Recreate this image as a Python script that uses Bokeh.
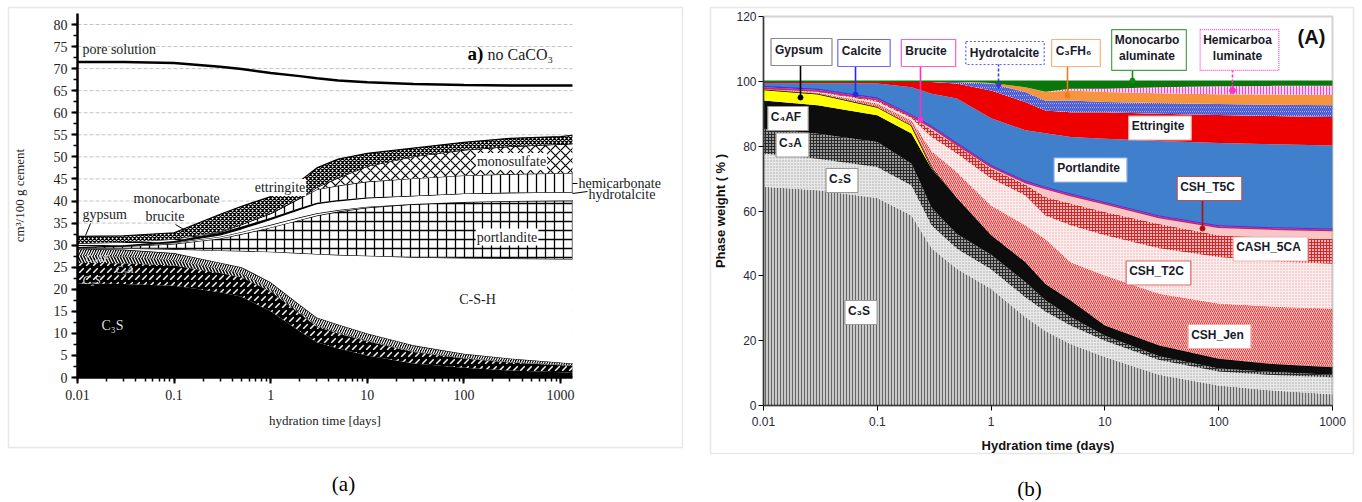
import numpy as np
from bokeh.plotting import figure
from bokeh.models import (Range1d, Label, BoxAnnotation, LogTicker, SingleIntervalTicker,
                          CustomJSTickFormatter, LogAxis, LinearAxis)
from bokeh.layouts import row
from bokeh.embed import file_html
from bokeh.resources import INLINE

# ---------------- Panel (a): volumes, cm3 / 100 g cement ----------------
ta = [0.01, 0.03, 0.1, 0.3, 0.5, 1, 2, 3, 5, 10, 30, 100, 300, 1000, 1330]
a_C3S = [21.3, 21.2, 20.8, 19.3, 18.3, 15.0, 10.5, 8.0, 6.6, 5.0, 3.2, 2.2, 1.6, 1.2, 1.1]
a_C2S = [4.7, 4.7, 4.6, 4.4, 4.4, 4.5, 4.0, 3.5, 3.4, 3.2, 2.6, 2.1, 1.8, 1.6, 1.5]
a_C3A = [1.6, 1.5, 1.2, 0.9, 0.8, 0.6, 0.4, 0.3, 0.25, 0.2, 0.15, 0.1, 0.1, 0.1, 0.1]
a_C4AF = [1.6, 1.6, 1.6, 1.4, 1.5, 1.5, 1.6, 1.8, 1.75, 1.6, 1.35, 1.0, 0.8, 0.5, 0.5]
a_CSH = [0.1, 0.3, 0.9, 2.8, 3.7, 6.9, 11.7, 14.4, 15.8, 17.6, 20.0, 21.7, 22.7, 23.5, 23.7]
a_portlandite = [0.2, 0.4, 1.2, 2.7, 3.8, 5.5, 7.5, 8.7, 9.8, 10.9, 12.0, 12.7, 13.0, 13.2, 13.2]
a_brucite = [0.1, 0.15, 0.25, 0.4, 0.5, 0.6, 0.6, 0.5, 0.35, 0.2, 0, 0, 0, 0, 0]
a_hydrotalcite = [0, 0, 0.1, 0.4, 0.7, 1.2, 1.8, 2.2, 2.1, 2.0, 1.9, 1.9, 1.9, 1.9, 1.9]
a_monocarbonate = [0, 0.1, 0.3, 0.5, 0.5, 0.4, 0.3, 0.2, 0.15, 0.1, 0, 0, 0, 0, 0]
a_hemicarbonate = [0, 0, 0, 0.2, 0.5, 1.0, 2.2, 3.0, 3.3, 3.6, 3.9, 4.1, 4.2, 4.3, 4.3]
a_monosulfate = [0, 0, 0, 0, 0, 0, 0.1, 0.5, 1.8, 3.5, 5.0, 5.8, 6.3, 6.6, 6.7]
a_gypsum = [0.8, 0.7, 0.4, 0.1, 0.05, 0, 0, 0, 0, 0, 0, 0, 0, 0, 0]
a_ettringite = [1.6, 1.45, 1.45, 3.9, 4.05, 3.8, 3.8, 4.4, 4.2, 2.9, 1.9, 1.7, 1.8, 1.7, 1.9]
a_pore = [71.5, 71.5, 71.3, 70.4, 69.9, 69.0, 68.3, 67.8, 67.3, 66.9, 66.5, 66.3, 66.2, 66.2, 66.2]

# ---------------- Panel (b): phase weight, % ----------------
tb = [0.01, 0.03, 0.1, 0.2, 0.3, 0.5, 1, 2, 3, 5, 10, 30, 100, 300, 1000]
b_C3S = [67.5, 66.4, 64.0, 58.6, 48.5, 42.2, 36.0, 27.3, 23.0, 19.0, 15.0, 9.5, 6.2, 4.6, 3.5]
b_C2S = [10.2, 9.7, 9.6, 9.3, 7.1, 6.2, 6.0, 6.1, 6.0, 5.7, 5.0, 4.5, 4.3, 4.8, 5.2]
b_C3A = [7.7, 7.7, 7.7, 6.7, 5.4, 4.5, 4.5, 4.7, 3.5, 2.6, 1.5, 1.2, 0.9, 0.9, 0.8]
b_C4AF = [8.7, 8.8, 8.2, 9.3, 12.0, 11.1, 6.0, 6.1, 5.0, 5.1, 3.2, 3.3, 3.0, 2.5, 2.3]
b_gypsum = [3.4, 3.6, 2.6, 2.5, 0.5, 0, 0, 0, 0, 0, 0, 0, 0, 0, 0]
b_CSH_Jen = [0.1, 0.3, 1.1, 1.5, 5.0, 8.0, 9.2, 11.4, 13.9, 11.8, 15.4, 16.0, 17.1, 17.7, 18.1]
b_CSH_T2C = [0.1, 0.2, 0.5, 0.8, 4.3, 5.7, 8.3, 9.2, 7.2, 11.4, 12.4, 14.0, 14.3, 14.0, 13.8]
b_CASH_5CA = [0.1, 0.2, 0.4, 0.4, 2.2, 2.5, 3.0, 3.4, 5.7, 6.7, 7.2, 7.5, 6.7, 7.3, 7.7]
b_CSH_T5C = [0.1, 0.1, 0.2, 0.1, 0.7, 0.3, 0.6, 0.6, 2.6, 2.5, 2.5, 2.0, 2.5, 2.6, 2.6]
b_brucite = [0.3, 0.3, 0.3, 0.3, 0.3, 0.3, 0.3, 0.3, 0.3, 0.3, 0.3, 0.3, 0.3, 0.3, 0.3]
b_calcite = [0.4, 0.4, 0.4, 0.3, 0.3, 0.3, 0.3, 0.3, 0.3, 0.3, 0.3, 0.3, 0.3, 0.3, 0.3]
b_portlandite = [0.9, 1.7, 4.3, 8.4, 9.9, 13.6, 14.4, 15.5, 16.5, 17.4, 19.5, 23.0, 25.4, 25.6, 25.6]
b_ettringite = [0.5, 0.6, 0.6, 1.8, 3.6, 4.6, 8.6, 8.7, 7.0, 7.7, 8.2, 8.4, 8.6, 8.7, 8.8]
b_hydrotalcite = [0, 0, 0.1, 0, 0.1, 0.5, 2.1, 3.1, 3.0, 3.6, 3.1, 3.3, 3.4, 3.5, 3.6]
b_C3FH6 = [0, 0, 0, 0, 0.1, 0.2, 0.2, 1.5, 2.7, 3.1, 3.1, 3.0, 3.0, 3.1, 3.2]
b_hemicarbo = [0, 0, 0, 0, 0, 0, 0, 0, 0.1, 0.5, 1.0, 1.9, 2.5, 2.7, 2.8]
b_monocarbo = [0, 0, 0, 0, 0, 0, 0.5, 1.8, 3.2, 2.3, 2.3, 1.8, 1.5, 1.4, 1.4]

a_xticks_minor = 10
a_ygrid = [5, 10, 15, 20, 25, 30, 35, 40, 45, 50, 55, 60, 65, 70, 75, 80]

SERIF = "Liberation Serif"
SANS = "Liberation Sans"
fmt = CustomJSTickFormatter(code="return String(Number(tick.toPrecision(6)));")

# ---- pixel layout anchors (canvas = plot frame, axes drawn inside) ----
W_A, W_B, H = 700, 662, 502
AX0, ADEC, AY0, AK = 77.0, 96.6, 377.0, 4.4125          # panel a
BX0, BDEC, BY0, BK = 63.0, 113.8, 405.0, 389.0 / 120.0   # panel b (local px)


def pa(px, py):
    return 10 ** (-2 + (px - AX0) / ADEC), (AY0 - py) / AK


def pb(px, py):
    return 10 ** (-2 + (px - BX0) / BDEC), (BY0 - py) / BK


def make_fig(w, x0, dec, y0, k):
    p = figure(width=w, height=H, x_axis_type="log", x_axis_location=None,
               y_axis_location=None, title=None, min_border=0,
               x_range=Range1d(10 ** (-2 - x0 / dec), 10 ** (-2 + (w - x0) / dec)),
               y_range=Range1d(-(H - y0) / k, y0 / k),
               output_backend="svg", toolbar_location=None)
    p.outline_line_color = None
    p.grid.visible = False
    p.background_fill_color = "white"
    p.border_fill_color = "white"
    return p


def stack_band(p, x, lo, hi, fill, hatch=None, hcolor="black", hscale=8.0, hweight=1.0,
               edge=None, ew=1.0):
    kw = dict(fill_color=fill)
    if hatch:
        kw.update(hatch_pattern=hatch, hatch_color=hcolor, hatch_scale=hscale,
                  hatch_weight=hweight)
    p.varea(x=x, y1=lo, y2=hi, **kw)
    if edge:
        p.line(x, hi, line_color=edge, line_width=ew)


def lab(p, x, y, text, font=SERIF, size="13px", color="#222222", style="normal",
        align="left", bg=None, pad=0, border=None, dash=None, bw=1.2):
    kw = dict(x=x, y=y, text=text, text_font=font, text_font_size=size,
              text_color=color, text_font_style=style, text_align=align,
              text_baseline="middle")
    if bg:
        kw.update(background_fill_color=bg, padding=pad)
    if border:
        kw.update(border_line_color=border, border_line_width=bw)
        if dash:
            kw.update(border_line_dash=dash)
    p.add_layout(Label(**kw))


# ======================= Figure (a) =======================
fa = make_fig(W_A, AX0, ADEC, AY0, AK)
fa.segment(x0=[ta[0]] * len(a_ygrid), y0=a_ygrid, x1=[ta[-1]] * len(a_ygrid), y1=a_ygrid,
           line_color="#c4c4c4", line_dash="4 2", line_width=1)

layers_a = [
    (a_C3S, "black", None, "white", 8, 1, None),
    (a_C2S, "black", "right_diagonal_dash", "white", 7, 1.5, None),
    (a_C3A, "black", "left_diagonal_line", "white", 6, 1.2, None),
    (a_C4AF, "black", "right_diagonal_line", "white", 5, 1.2, "black"),
    (a_CSH, "white", None, "black", 8, 1, "black"),
    (a_portlandite, "white", "cross", "black", 9, 1.3, "black"),
    (a_brucite, "white", None, "black", 8, 1, "black"),
    (a_hydrotalcite, "white", None, "black", 8, 1, "black"),
    (a_monocarbonate, "black", None, "black", 8, 1, "black"),
    (a_hemicarbonate, "white", "vertical_line", "black", 9, 1.3, "black"),
    (a_monosulfate, "white", "diagonal_cross", "black", 10, 1.2, "black"),
    (a_gypsum, "white", "horizontal_line", "black", 3, 1, "black"),
    (a_ettringite, "white", "diagonal_cross", "black", 4, 1.3, "black"),
]
lo = np.zeros(len(ta))
for vals, fill, hatch, hc, hs, hw, edge in layers_a:
    hi = lo + np.array(vals, dtype=float)
    stack_band(fa, ta, lo, hi, fill, hatch, hc, hs, hw, edge, 1.2)
    lo = hi
fa.line(ta, a_pore, line_color="black", line_width=2.5)

xa = LogAxis(fixed_location=0, bounds=(ta[0], ta[-1]),
             ticker=LogTicker(num_minor_ticks=a_xticks_minor), formatter=fmt)
ya = LinearAxis(fixed_location=ta[0], bounds=(0, pa(0, 13)[1]),
                ticker=SingleIntervalTicker(interval=5, num_minor_ticks=2))
for ax in (xa, ya):
    ax.axis_line_width = 2.5
    ax.axis_line_color = "black"
    ax.major_tick_line_width = 2
    ax.major_tick_out = 6
    ax.major_tick_in = 0
    ax.minor_tick_out = 4
    ax.minor_tick_in = 0
    ax.minor_tick_line_width = 1.5
    ax.major_label_text_font = SERIF
    ax.major_label_text_font_size = "14px"
    ax.major_label_text_color = "#222222"
    ax.axis_label_text_font = SERIF
    ax.axis_label_text_font_style = "normal"
    ax.axis_label_text_font_size = "13px"
    ax.axis_label_text_color = "#222222"
xa.axis_label = "hydration time [days]"
xa.major_label_standoff = 6
xa.axis_label_standoff = 10
ya.axis_label = "cm³/100 g cement"
ya.major_label_standoff = 4
ya.axis_label_standoff = 24
fa.add_layout(xa, "below")
fa.add_layout(ya, "left")

lab(fa, *pa(82, 49), "pore solution", size="14px")
lab(fa, *pa(467, 53), "a)", size="19px", style="bold", color="black")
lab(fa, *pa(487, 54), "no CaCO₃", size="16px")
lab(fa, *pa(82, 213.5), "gypsum", size="14px")
lab(fa, *pa(133, 198), "monocarbonate", size="14px")
lab(fa, *pa(145, 216), "brucite", size="14px")
lab(fa, *pa(279.5, 187), "ettringite", size="14px", align="center", bg="white", pad=1)
lab(fa, *pa(511, 161), "monosulfate", size="14px", align="center", bg="white", pad=1)
lab(fa, *pa(578, 183), "hemicarbonate", size="14px")
lab(fa, *pa(588, 194), "hydrotalcite", size="14px")
lab(fa, *pa(506.5, 236.5), "portlandite", size="14px", align="center", bg="white", pad=1)
lab(fa, *pa(477, 299), "C-S-H", size="14px", align="center")
lab(fa, *pa(112, 325), "C₃S", size="14px", align="center", color="#dddddd")
lab(fa, *pa(91, 279), "C₂S", size="12px", align="center", color="#dddddd", style="italic")
lab(fa, *pa(124, 268), "C₃A", size="11px", align="center", color="#dddddd", style="italic")
lab(fa, *pa(97, 257), "C₄AF", size="11px", align="center", color="#dddddd", style="italic")
leaders = [((90, 223), (85, 235)), ((175, 224), (190, 233)),
           ((572, 183), (577, 183)), ((572, 193), (587, 191))]
fa.segment(x0=[pa(*a)[0] for a, b in leaders], y0=[pa(*a)[1] for a, b in leaders],
           x1=[pa(*b)[0] for a, b in leaders], y1=[pa(*b)[1] for a, b in leaders],
           line_color="black", line_width=1)
(l, t), (r, b) = pa(8, 7), pa(682, 447)
fa.add_layout(BoxAnnotation(left=l, right=r, top=t, bottom=b, fill_color=None,
                            line_color="#b4b4b4", line_width=1.5))
lab(fa, *pa(343, 483), "(a)", size="21px", color="black", align="center")

# ======================= Figure (b) =======================
fb = make_fig(W_B, BX0, BDEC, BY0, BK)

layers_b = [
    (b_C3S, "#c8c8c8", "vertical_line", "#666666", 3, 1, None),
    (b_C2S, "#e8e8e8", "dot", "#a8a8a8", 3, 1, None),
    (b_C3A, "#9a9a9a", "cross", "#2a2a2a", 3, 1, None),
    (b_C4AF, "#0d0d0d", None, "black", 3, 1, None),
    (b_gypsum, "#ffff00", None, "black", 3, 1, "black"),
    (b_CSH_Jen, "#f7c4c4", "right_diagonal_line", "#e03a3a", 4, 1, None),
    (b_CSH_T2C, "#fdeeee", "dot", "#f0a8a8", 3, 1, None),
    (b_CASH_5CA, "#f2b4b4", "cross", "#cc2a2a", 3, 1, None),
    (b_CSH_T5C, "#f8c6c6", None, "black", 3, 1, "#cc2020"),
    (b_brucite, "#cc22cc", None, "black", 3, 1, None),
    (b_calcite, "#3a3ad8", None, "black", 3, 1, "#5a2ad0"),
    (b_portlandite, "#3f7fcc", None, "black", 3, 1, None),
    (b_ettringite, "#ee0000", None, "black", 3, 1, None),
    (b_hydrotalcite, "#ffffff", "left_diagonal_line", "#3a4ed0", 4, 1.6, None),
    (b_C3FH6, "#f7953e", None, "black", 3, 1, None),
    (b_hemicarbo, "#ffd6f2", "vertical_line", "#ff3fd0", 3, 1, None),
    (b_monocarbo, "#0a770a", None, "black", 3, 1, "#0a770a"),
]
lo = np.zeros(len(tb))
for vals, fill, hatch, hc, hs, hw, edge in layers_b:
    hi = lo + np.array(vals, dtype=float)
    stack_band(fb, tb, lo, hi, fill, hatch, hc, hs, hw, edge, 1.5)
    lo = hi

fb.add_layout(BoxAnnotation(left=tb[0], right=tb[-1], bottom=0, top=120, fill_color=None,
                            line_color="#6e6e6e", line_width=2))

xb = LogAxis(fixed_location=0, bounds=(tb[0], tb[-1]), ticker=LogTicker(num_minor_ticks=0),
             formatter=fmt)
yb = LinearAxis(fixed_location=tb[0], bounds=(0, 120),
                ticker=SingleIntervalTicker(interval=20, num_minor_ticks=0))
for ax in (xb, yb):
    ax.axis_line_color = "#222222"
    ax.axis_line_width = 1.5
    ax.major_tick_out = 5
    ax.major_tick_in = 0
    ax.minor_tick_line_color = None
    ax.major_label_text_font = SANS
    ax.major_label_text_font_size = "12px"
    ax.major_label_text_color = "#2a2a3a"
    ax.axis_label_text_font = SANS
    ax.axis_label_text_font_style = "bold"
    ax.axis_label_text_font_size = "13px"
    ax.axis_label_text_color = "#111111"
xb.axis_label = "Hydration time (days)"
xb.major_label_standoff = 6
xb.axis_label_standoff = 9
yb.axis_label = "Phase weight ( % )"
yb.major_label_standoff = 2
yb.axis_label_standoff = 5
fb.add_layout(xb, "below")
fb.add_layout(yb, "left")

# pointer lines from label boxes (local px of the reference)
ptr = [  # px_x, py_top, py_end, color
    (800, 61, 97, "black"),
    (855, 63, 94, "#2a2ae0"),
    (920, 63, 119, "#ff2fc0"),
    (1067, 63, 95, "#f07a20"),
    (1132, 64, 80, "#118811"),
    (1202, 198, 228, "#b01010"),
]
for px, py0, py1, c in ptr:
    x, y0 = pb(px - 700, py0)
    _, y1 = pb(px - 700, py1)
    fb.segment(x0=[x], y0=[y0], x1=[x], y1=[y1], line_color=c, line_width=1.6)
    fb.scatter([x], [y1], size=5, color=c)
for px, py0, py1, c, mk in [(998, 63, 85, "#3a3ae0", "inverted_triangle"),
                            (1232, 64, 90, "#ff30d0", "circle")]:
    x, y0 = pb(px - 700, py0)
    _, y1 = pb(px - 700, py1)
    fb.segment(x0=[x], y0=[y0], x1=[x], y1=[y1], line_color=c, line_width=1.6,
               line_dash="3 2")
    fb.scatter([x], [y1], size=6, marker=mk, color=c)

P = (4, 9, 4, 9)
top_boxes = [
    ("Gypsum", 801, 51.5, "#8a8a8a", None, P),
    ("Calcite", 863.5, 52.5, "#6a6aff", None, P),
    ("Brucite", 928, 52.5, "#ff5ccc", None, P),
    ("Hydrotalcite", 1004.5, 52.5, "#5a5aff", "2 2", (4, 5, 4, 5)),
    ("C₃FH₆", 1075.5, 52.5, "#f8b27a", None, P),
    ("Monocarbo\naluminate", 1148.5, 49.5, "#4aa04a", None, (3, 7, 3, 7)),
    ("Hemicarboa\nluminate", 1239, 49.5, "#ff44d4", "1 1", (3, 7, 3, 7)),
]
for txt, px, py, bc, dash, pad in top_boxes:
    lab(fb, *pb(px - 700, py), txt, font=SANS, style="bold", align="center", bg="white",
        pad=pad, border=bc, dash=dash, size="12px", color="#1a1a2a")
lab(fb, *pb(1311 - 700, 36), "(A)", font=SANS, style="bold", align="center", size="20px",
    color="#111111")
in_boxes = [
    ("C₄AF", 787.5, 118, "#9a9a9a"),
    ("C₃A", 792, 144.5, "#9a9a9a"),
    ("C₂S", 841.5, 180, "#9a9a9a"),
    ("C₃S", 860.5, 312, "#9a9a9a"),
    ("Ettringite", 1159.5, 127.5, "#f0a0a0"),
    ("Portlandite", 1090, 169.5, "#a0c0f0"),
    ("CSH_T5C", 1209, 188, "#c05050"),
    ("CASH_5CA", 1270, 248.5, "#f0b0b0"),
    ("CSH_T2C", 1158, 272.5, "#d86a6a"),
    ("CSH_Jen", 1219, 336, "#f0b0b0"),
]
for txt, px, py, bc in in_boxes:
    lab(fb, *pb(px - 700, py), txt, font=SANS, style="bold", align="center", bg="white",
        pad=(3, 7, 3, 7), border=bc, size="12px", color="#1a1a2a")

(l, t), (r, b) = pb(10, 7), pb(653, 453)
fb.add_layout(BoxAnnotation(left=l, right=r, top=t, bottom=b, fill_color=None,
                            line_color="#b4b4b4", line_width=1.5))
lab(fb, *pb(329, 488), "(b)", size="21px", color="black", align="center")

layout = row(fa, fb)
open("out.html", "w").write(file_html(layout, INLINE))
